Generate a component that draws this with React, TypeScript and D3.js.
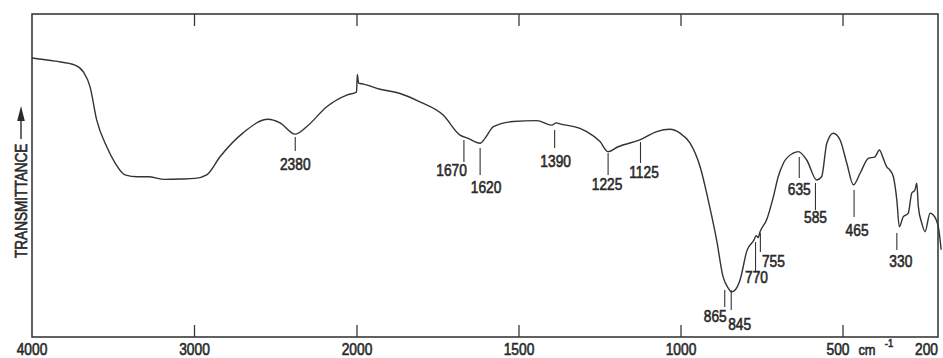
import React from "react";
import * as d3 from "d3";

// ---- data ----
const wavenumbers = [
  4000, 3858, 3735, 3684, 3643, 3602, 3540, 3489, 3428, 3350, 3286, 3182, 3083, 2997, 2925, 2843,
  2701, 2548, 2474, 2380, 2310, 2186, 2063, 2003, 1999, 1995, 1980, 1929, 1867, 1806, 1734, 1682,
  1657, 1620, 1605, 1579, 1519, 1445, 1399, 1385, 1374, 1312, 1291, 1250, 1225, 1194, 1127, 1075,
  1034, 1003, 972, 941, 916, 890, 870, 854, 845, 836, 818, 796, 775, 768, 762, 756, 736, 715, 700,
  684, 654, 638, 612, 581, 566, 550, 530, 509, 488, 467, 446, 420, 399, 385, 373, 362, 352, 341,
  330, 322, 310, 294, 283, 273, 267, 262, 251, 241, 225, 215, 199, 190,
];
const transmittance = [
  86.4, 85.4, 84.2, 82.1, 77.5, 67.2, 58.9, 53.9, 50.2, 49.6, 49.6, 48.8, 48.9, 49.1, 50.2, 55.8,
  63.2, 67.4, 66.3, 62.8, 65.1, 71.3, 74.9, 75.8, 81.3, 78.6, 78.3, 76.7, 75.4, 72.8, 68.7, 62.5,
  61.5, 60.0, 61.5, 65.1, 66.7, 67.0, 65.6, 66.3, 66.0, 64.6, 63.6, 60.5, 57.4, 58.9, 61.0, 63.6,
  64.3, 63.1, 60.0, 52.7, 42.4, 30.0, 18.6, 15.1, 14.0, 14.3, 17.6, 26.9, 30.0, 31.4, 30.8, 32.6,
  36.2, 43.4, 49.6, 53.8, 56.9, 57.4, 54.8, 48.6, 49.6, 60.0, 63.1, 61.0, 53.8, 47.1, 50.7, 55.3,
  55.8, 57.9, 55.3, 52.7, 51.7, 49.6, 42.4, 34.1, 37.2, 38.3, 44.5, 45.5, 47.6, 40.3, 35.2, 32.6,
  38.3, 37.8, 34.1, 27.0,
];

const axisTickValues = [4000, 3000, 2000, 1500, 1000, 500, 200];
const frameTickValues = [3000, 2000, 1500, 1000, 500];
const peakLabels = ["2380", "1670", "1620", "1390", "1225", "1125", "865", "845", "770", "755", "635", "585", "465", "330"];
const peakValues = [2380, 1670, 1620, 1390, 1225, 1125, 865, 845, 770, 755, 635, 585, 465, 330];

// ---- layout (pixel placement of the peak annotations) ----
// [tickTop, tickBottom, textDx, textBaseline, anchor]
const peakLayout: [number, number, number, number, string][] = [
  [137, 151, 0, 170, "middle"],
  [140, 162, 3, 176, "end"],
  [148, 175, 6, 193, "middle"],
  [130, 148, 1, 167, "middle"],
  [153, 175, -1, 190, "middle"],
  [142, 163, 3.5, 178, "middle"],
  [290, 307, 2, 322, "end"],
  [290, 310, -3, 330, "start"],
  [242, 272, 1, 283, "middle"],
  [233, 252, 1.5, 267, "start"],
  [157, 178, 0, 195, "middle"],
  [183, 210, 0, 223, "middle"],
  [190, 217, 3, 236, "middle"],
  [233, 250, 4, 267, "middle"],
];

const W = 943;
const H = 358;
const LEFT = 32;
const RIGHT = 938;
const TOP = 14;
const BOTTOM = 337;
const FONT = "'Liberation Sans', Arial, sans-serif";
const INK = "#2a2a2a";

export default function App() {
  const x = d3.scaleLinear().domain([4000, 2000, 500, 200]).range([LEFT, 357, 843, RIGHT]);
  const y = d3.scaleLinear().domain([0, 100]).range([BOTTOM, TOP]);

  const pts: [number, number][] = wavenumbers.map((w, i) => [w, transmittance[i]]);
  const line = d3
    .line<[number, number]>()
    .x((d) => x(d[0]))
    .y((d) => y(d[1]))
    .curve(d3.curveMonotoneX);

  const txt = (
    key: string,
    s: string,
    tx: number,
    ty: number,
    anchor: string,
    size = 16
  ) => (
    <text
      key={key}
      transform={`translate(${tx},${ty}) scale(0.86,1)`}
      textAnchor={anchor as any}
      fontFamily={FONT}
      fontSize={size}
      fill={INK}
      stroke={INK}
      strokeWidth={0.6}
    >
      {s}
    </text>
  );

  return (
    <svg
      width={W}
      height={H}
      style={{ position: "absolute", left: 0, top: 0, background: "#fff" }}
    >
      <rect x={0} y={0} width={W} height={H} fill="#fff" />
      {/* frame */}
      <rect
        x={LEFT}
        y={TOP}
        width={RIGHT - LEFT}
        height={BOTTOM - TOP}
        fill="none"
        stroke="#3a3a3a"
        strokeWidth={1.6}
      />
      {frameTickValues.map((v) => (
        <g key={"ft" + v} stroke="#3a3a3a" strokeWidth={1.3}>
          <line x1={x(v)} x2={x(v)} y1={TOP} y2={TOP + 12} />
          <line x1={x(v)} x2={x(v)} y1={BOTTOM} y2={BOTTOM - 12} />
        </g>
      ))}

      {/* x tick labels */}
      {axisTickValues.map((v) => {
        if (v === 200) return txt("xl" + v, String(v), 915, 355, "start");
        if (v === 500) return txt("xl" + v, String(v), x(v) - 5, 355, "middle");
        return txt("xl" + v, String(v), x(v), 355, "middle");
      })}
      {txt("cm", "cm", 867, 355, "middle", 15)}
      {txt("cmexp", "-1", 889, 347, "middle", 11)}

      {/* y axis title */}
      <text
        transform={`translate(26.5,258) rotate(-90) scale(0.85,1)`}
        fontFamily={FONT}
        fontSize={16}
        fill={INK}
        stroke={INK}
        strokeWidth={0.6}
      >
        TRANSMITTANCE
      </text>
      <line x1={21} x2={21} y1={139} y2={118} stroke={INK} strokeWidth={1.4} />
      <path d="M21,106 L17.2,121 L24.8,121 Z" fill={INK} />

      {/* spectrum */}
      <path d={line(pts) || ""} fill="none" stroke="#333" strokeWidth={1.4} strokeLinejoin="round" />

      {/* peak annotations */}
      {peakValues.map((v, i) => {
        const [t0, t1, dx, ty, anchor] = peakLayout[i];
        const px = x(v);
        return (
          <g key={"pk" + v}>
            <line x1={px} x2={px} y1={t0} y2={t1} stroke="#333" strokeWidth={1.1} />
            {txt("pt" + v, peakLabels[i], px + dx, ty, anchor)}
          </g>
        );
      })}
    </svg>
  );
}
